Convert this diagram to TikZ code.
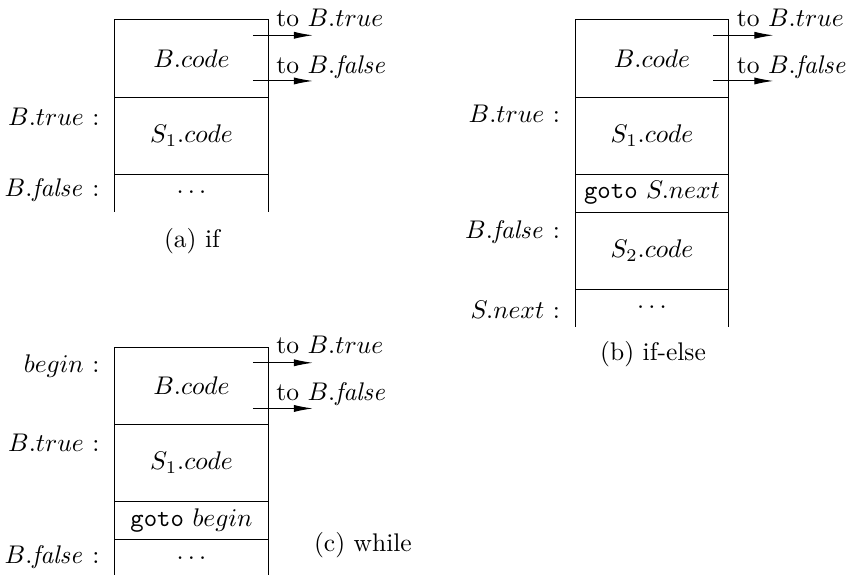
\documentclass[tikz,border=0pt]{standalone}
\usetikzlibrary{positioning,arrows.meta}
\tikzset{
  seg/.style={draw, minimum width=60pt, minimum height=30.2pt, inner sep=0pt, outer sep=0pt},
  halfseg/.style={seg, minimum height=14.9pt},
  openseg/.style={halfseg, draw=none},
  lbl/.style={anchor=base east, inner sep=0pt, xshift=-5.9pt},
  tolbl/.style={anchor=base west, inner sep=0pt},
  jump/.style={-{Latex[length=7.5pt,width=2.8pt]}},
}
% the two exits of a B.code block
\newcommand{\branchout}[1]{%
  \draw[jump] ([xshift=-5.9pt,yshift=-6pt]#1.north east) -- ([xshift=17.6pt,yshift=-6pt]#1.north east);
  \draw[jump] ([xshift=-5.9pt,yshift=6.3pt]#1.south east) -- ([xshift=17.6pt,yshift=6.3pt]#1.south east);
  \node[tolbl] (#1t) at ([xshift=3.1pt,yshift=-2.4pt]#1.north east) {to $B.true$};
  \node[tolbl] (#1f) at ([xshift=3.1pt,yshift=9.4pt]#1.south east) {to $B.\mathit{false}$};
}
\begin{document}
\begin{tikzpicture}[x=0.392pt,y=-0.392pt]
  \useasboundingbox (0,0) rectangle (856,574);
  % (a) if
  \node[seg] (a1) at (191.5,58.5) {$B.code$};
  \node[seg,below=0pt of a1] (a2) {$S_1.code$};
  \node[openseg,below=0pt of a2] (a3) {$\cdots$};
  \draw (a3.north west) -- (a3.south west) (a3.north east) -- (a3.south east);
  \branchout{a1}
  \node[lbl] (a2l) at ([yshift=-11pt]a2.north west) {$B.true$ :};
  \node[lbl] (a3l) at ([yshift=-8.6pt]a3.north west) {$B.\mathit{false}$ :};
  \node[anchor=base] (acap) at (192,247) {(a) if};
  % (b) if-else
  \node[seg] (b1) at (652,58.5) {$B.code$};
  \node[seg,below=0pt of b1] (b2) {$S_1.code$};
  \node[halfseg,below=0pt of b2] (b3) {\texttt{goto} $S.next$};
  \node[seg,below=0pt of b3] (b4) {$S_2.code$};
  \node[openseg,below=0pt of b4] (b5) {$\cdots$};
  \draw (b5.north west) -- (b5.south west) (b5.north east) -- (b5.south east);
  \branchout{b1}
  \node[lbl] (b2l) at ([yshift=-9.8pt]b2.north west) {$B.true$ :};
  \node[lbl] (b4l) at ([yshift=-10.2pt]b4.north west) {$B.\mathit{false}$ :};
  \node[lbl] (b5l) at ([yshift=-11.6pt]b5.north west) {$S.next$ :};
  \node[anchor=base] (bcap) at (653,360) {(b) if-else};
  % (c) while
  \node[seg] (c1) at (191.5,386) {$B.code$};
  \node[seg,below=0pt of c1] (c2) {$S_1.code$};
  \node[halfseg,below=0pt of c2] (c3) {\texttt{goto} $begin$};
  \node[openseg,below=0pt of c3] (c4) {$\cdots$};
  \draw (c4.north west) -- (c4.south west) (c4.north east) -- (c4.south east);
  \branchout{c1}
  \node[lbl] (c1l) at ([yshift=-9.8pt]c1.north west) {$begin$ :};
  \node[lbl] (c2l) at ([yshift=-10.6pt]c2.north west) {$B.true$ :};
  \node[lbl] (c4l) at ([yshift=-9.4pt]c4.north west) {$B.\mathit{false}$ :};
  \node[anchor=base west] (ccap) at (305,551) {(c) while};
\end{tikzpicture}
\end{document}
